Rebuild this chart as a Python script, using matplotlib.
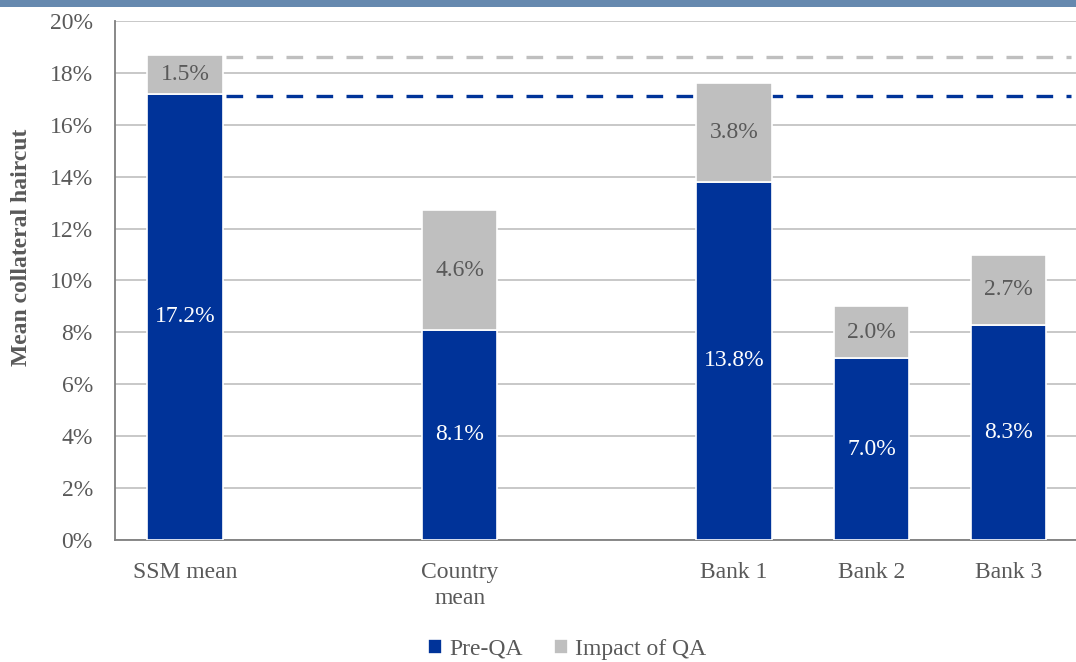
import matplotlib
matplotlib.use("Agg")
import matplotlib.pyplot as plt
from matplotlib.patches import Rectangle

categories = ["SSM mean", "Country\nmean", "Bank 1", "Bank 2", "Bank 3"]
positions = [0, 2, 4, 5, 6]
pre_qa = [17.2, 8.1, 13.8, 7.0, 8.3]
impact_qa = [1.5, 4.6, 3.8, 2.0, 2.7]
ref_post = 18.6
ref_pre = 17.1
yticks = [0, 2, 4, 6, 8, 10, 12, 14, 16, 18, 20]

BLUE = "#003399"
GRAY = "#BFBFBF"
TXT = "#595959"
FS = 17

plt.rcParams['font.family'] = ['Liberation Serif', 'DejaVu Serif']

fig = plt.figure(figsize=(10.76, 6.62), dpi=100)
fig.patches.append(Rectangle((0, 0.9895), 1, 0.0105, transform=fig.transFigure,
                             facecolor="#6689AF", edgecolor="none"))
ax = fig.add_axes([0.1069, 0.1843, 0.8931, 0.784])

w = 0.55
b1 = ax.bar(positions, pre_qa, width=w, color=BLUE, edgecolor="white", linewidth=1.2,
            label="Pre-QA", zorder=3)
b2 = ax.bar(positions, impact_qa, width=w, bottom=pre_qa, color=GRAY, edgecolor="white",
            linewidth=1.2, label="Impact of QA", zorder=3)

for p, a, b in zip(positions, pre_qa, impact_qa):
    ax.text(p, a / 2, f"{a:.1f}%", ha="center", va="center", color="white", fontsize=FS, zorder=4)
    ax.text(p, a + b / 2, f"{b:.1f}%", ha="center", va="center", color=TXT, fontsize=FS, zorder=4)

ax.hlines(ref_post, 0.3, 6.45, colors=GRAY, linestyles=(0, (5, 4)), linewidth=2.4, zorder=2)
ax.hlines(ref_pre, 0.3, 6.45, colors=BLUE, linestyles=(0, (5, 4)), linewidth=2.4, zorder=2)

ax.set_xlim(-0.51, 6.49)
ax.set_ylim(0, 20)
ax.set_yticks(yticks)
ax.set_yticklabels([f"{t}%" for t in yticks])
ax.set_xticks(positions)
ax.set_xticklabels(categories, linespacing=1.3)
ax.tick_params(axis="both", length=0, labelsize=FS, colors=TXT)
ax.tick_params(axis="x", pad=16)
ax.tick_params(axis="y", pad=16)
ax.yaxis.grid(True, color="#BFBFBF", linewidth=1.2, zorder=0)
ax.set_axisbelow(True)
for s in ["top", "right"]:
    ax.spines[s].set_visible(False)
for s in ["left", "bottom"]:
    ax.spines[s].set_color("#7F7F7F")
    ax.spines[s].set_linewidth(1.3)

ax.set_ylabel("Mean collateral haircut", fontsize=FS, fontweight="bold", color=TXT)
ax.yaxis.set_label_coords(-0.086, 0.563)

fig.legend(handles=[b1, b2], labels=["Pre-QA", "Impact of QA"], loc="center",
           bbox_to_anchor=(567 / 1076, 1 - 649 / 662), ncol=2, frameon=False,
           fontsize=FS, handlelength=0.6, handleheight=0.6, handletextpad=0.3,
           columnspacing=1.3, labelcolor=TXT)

fig.savefig("out.png", dpi=100)
